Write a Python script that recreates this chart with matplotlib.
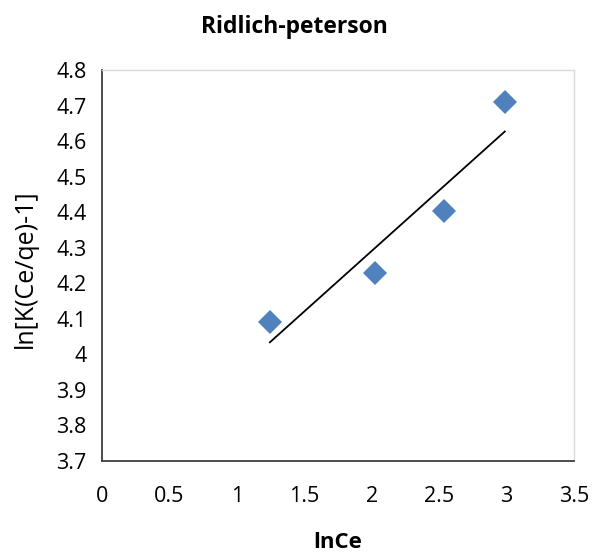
import numpy as np
import matplotlib.pyplot as plt

plt.rcParams['font.family'] = ['Open Sans', 'DejaVu Sans']

# 数据 (lnCe, ln[K(Ce/qe)-1])
lnCe = [1.245, 2.024, 2.535, 2.987]
lnK = [4.090, 4.230, 4.404, 4.709]

x_ticks = [0, 0.5, 1, 1.5, 2, 2.5, 3, 3.5]
x_tick_labels = ['0', '0.5', '1', '1.5', '2', '2.5', '3', '3.5']
y_ticks = [3.7, 3.8, 3.9, 4.0, 4.1, 4.2, 4.3, 4.4, 4.5, 4.6, 4.7, 4.8]
y_tick_labels = ['3.7', '3.8', '3.9', '4', '4.1', '4.2', '4.3', '4.4', '4.5', '4.6', '4.7', '4.8']

fig = plt.figure(figsize=(5.94, 5.53), dpi=100)
ax = fig.add_axes([0.1717, 0.1664, 0.7946, 0.7070])

# 线性趋势线
x = np.array(lnCe)
y = np.array(lnK)
k, b = np.polyfit(x, y, 1)
xs = np.array([x.min(), x.max()])
ax.plot(xs, k * xs + b, color='black', lw=1.3, zorder=2)

ax.plot(lnCe, lnK, linestyle='none', marker='D', markersize=12.5,
        color='#4F81BD', markeredgewidth=0, zorder=3)

ax.set_xlim(0, 3.5)
ax.set_ylim(3.7, 4.8)
ax.set_xticks(x_ticks)
ax.set_xticklabels(x_tick_labels)
ax.set_yticks(y_ticks)
ax.set_yticklabels(y_tick_labels)
ax.tick_params(length=0, labelsize=15.5, colors='#000000')
ax.tick_params(axis='y', pad=11)
ax.tick_params(axis='x', pad=18)

for s in ['top', 'right']:
    ax.spines[s].set_color('#D9D9D9')
    ax.spines[s].set_linewidth(1.0)
for s in ['left', 'bottom']:
    ax.spines[s].set_color('#404040')
    ax.spines[s].set_linewidth(1.3)

fig.text(294 / 594, 1 - 27 / 553, 'Ridlich-peterson', ha='center', va='center',
         fontsize=16.5, fontweight='bold')
fig.text(338 / 594, 1 - 542 / 553, 'lnCe', ha='center', va='center',
         fontsize=16, fontweight='bold')
fig.text(25 / 594, 1 - 269 / 553, 'ln[K(Ce/qe)-1]', ha='center', va='center',
         rotation=90, fontsize=18)

fig.savefig('out.png', dpi=100)
